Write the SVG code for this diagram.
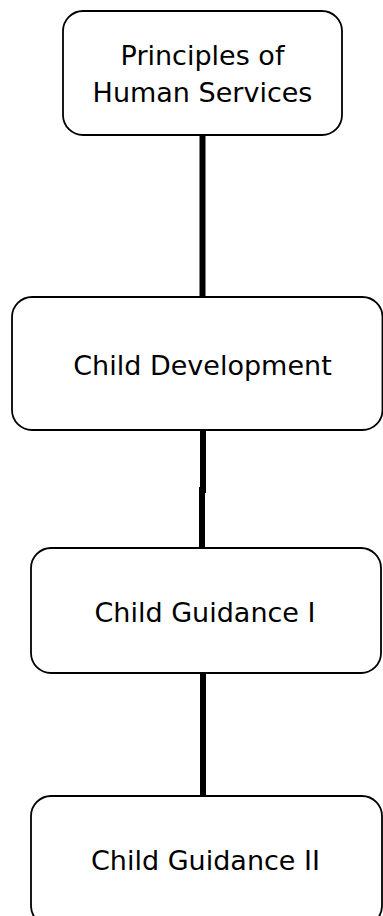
<svg xmlns="http://www.w3.org/2000/svg" width="383" height="916" viewBox="0 0 383 916">
  <style>
    .box { fill: #ffffff; stroke: #000000; stroke-width: 1.8; }
    .label { font-family: "DejaVu Sans", Verdana, sans-serif; font-size: 27px; fill: #000000; text-anchor: middle; }
    .link { stroke: #000000; stroke-width: 6; fill: none; }
  </style>
  <rect width="383" height="916" fill="#ffffff"/>

  <!-- connectors between the course boxes -->
  <g id="connectors">
    <line class="link" x1="202.5" y1="135" x2="202.5" y2="297"/>
    <line class="link" x1="203" y1="430" x2="203" y2="493"/>
    <line class="link" x1="202" y1="487" x2="202" y2="548"/>
    <line class="link" x1="203" y1="673" x2="203" y2="796"/>
  </g>

  <g id="principles-of-human-services">
    <rect class="box" x="63" y="11" width="279" height="124" rx="20" ry="20"/>
    <text class="label" x="202.5" y="65">Principles of</text>
    <text class="label" x="202.5" y="102">Human Services</text>
  </g>

  <g id="child-development">
    <rect class="box" x="12" y="297" width="370.5" height="133" rx="20" ry="20"/>
    <text class="label" x="202.5" y="375">Child Development</text>
  </g>

  <g id="child-guidance-1">
    <rect class="box" x="31" y="548" width="350" height="125" rx="20" ry="20"/>
    <text class="label" x="205" y="622">Child Guidance I</text>
  </g>

  <g id="child-guidance-2">
    <rect class="box" x="31" y="796" width="351" height="130" rx="20" ry="20"/>
    <text class="label" x="205.5" y="870">Child Guidance II</text>
  </g>
</svg>
